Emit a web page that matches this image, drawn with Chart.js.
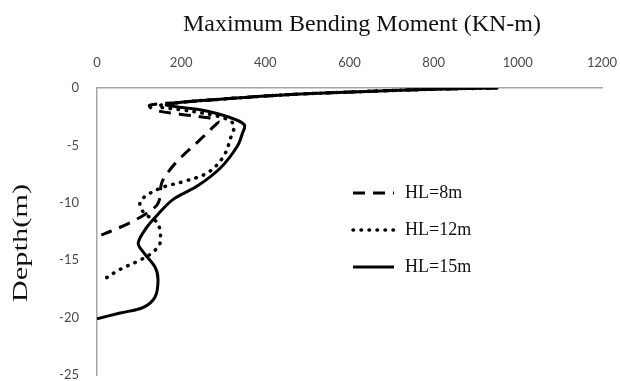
<!DOCTYPE html>
<html>
<head>
<meta charset="utf-8">
<script src="https://cdn.jsdelivr.net/npm/chart.js@4.4.1/dist/chart.umd.min.js"></script>
<style>
  html, body { margin: 0; padding: 0; background: #fff; }
  #wrap { width: 620px; height: 381px; }
</style>
</head>
<body>
<div id="wrap"><canvas id="moment-chart" width="620" height="381"></canvas></div>
<script>
var xTicks = [0, 200, 400, 600, 800, 1000, 1200];
var yTicks = [0, -5, -10, -15, -20, -25];

var labels = ['HL=8m', 'HL=12m', 'HL=15m'];

var depth8 = [0, -0.1, -0.3, -0.55, -0.8, -1.0, -1.25, -1.5, -1.9, -2.3, -2.6, -2.9, -3.4, -4.5, -6.4, -7.8, -8.5, -9.5, -10.3, -11.6, -12.5, -12.8];
var moment8 = [950, 800, 640, 470, 360, 285, 200, 125, 135, 200, 265, 288, 276, 245, 190, 160, 152, 150, 140, 86, 31, 10];

var depth12 = [0, -0.1, -0.3, -0.55, -0.8, -1.0, -1.25, -1.6, -2.0, -2.6, -3.2, -4.3, -6.0, -7.4, -8.2, -8.6, -9.3, -10.0, -10.9, -11.7, -12.6, -13.5, -14.3, -15.0, -15.8, -16.7];
var moment12 = [950, 800, 640, 470, 360, 285, 200, 145, 220, 300, 325, 318, 300, 262, 200, 160, 120, 102, 112, 143, 150, 150, 133, 102, 55, 15];

var depth15 = [0, -0.1, -0.3, -0.55, -0.8, -1.0, -1.25, -1.5, -1.9, -2.5, -3.2, -4.0, -5.1, -6.9, -8.5, -9.7, -11.0, -12.1, -13.5, -14.3, -15.6, -16.7, -18.2, -19.1, -19.6, -20.1];
var moment15 = [950, 800, 640, 470, 360, 285, 200, 165, 245, 310, 350, 345, 333, 295, 240, 181, 145, 119, 98, 110, 138, 145, 138, 110, 55, 0];

function pairs(depth, moment) {
    return depth.map(function (d, i) { return { x: moment[i], y: d }; });
}

var tickColor = '#4a4a4a';
var axisColor = '#a6a6a6';

const overlay = {
    id: 'overlay',
    afterDraw: function (chart) {
        var c = chart.ctx;
        c.save();
        c.fillStyle = '#111';
        c.textAlign = 'center';
        c.textBaseline = 'alphabetic';
        c.font = '24px "Liberation Serif", "Times New Roman", serif';
        c.fillText('Maximum Bending Moment (KN-m)', 362, 31);

        // rotated axis label, stretched like the original
        c.save();
        c.translate(27, 243);
        c.rotate(-Math.PI / 2);
        c.scale(1.45, 1);
        c.font = '21px "Liberation Serif", "Times New Roman", serif';
        c.fillText('Depth(m)', 0, 0);
        c.restore();

        // legend
        var rows = [193, 230, 267];
        chart.data.datasets.forEach(function (ds, i) {
            var y = rows[i];
            c.beginPath();
            c.setLineDash(ds.borderDash || []);
            c.lineCap = ds.borderCapStyle || 'butt';
            c.lineWidth = ds.borderWidth;
            c.strokeStyle = ds.borderColor;
            c.moveTo(353, y);
            c.lineTo(394, y);
            c.stroke();
            c.setLineDash([]);
            c.textAlign = 'left';
            c.textBaseline = 'middle';
            c.font = '18px "Liberation Serif", "Times New Roman", serif';
            c.fillText(ds.label, 405, y);
        });
        c.restore();
    }
};

const ctx = document.getElementById('moment-chart');

var momentChart = new Chart(ctx, {
    type: 'scatter',
    data: {
        datasets: [{
            label: labels[0],
            data: pairs(depth8, moment8),
            borderColor: '#000',
            borderWidth: 3,
            borderDash: [12, 8]
        }, {
            label: labels[1],
            data: pairs(depth12, moment12),
            borderColor: '#000',
            borderWidth: 3.5,
            borderDash: [0.5, 7.5],
            borderCapStyle: 'round'
        }, {
            label: labels[2],
            data: pairs(depth15, moment15),
            borderColor: '#000',
            borderWidth: 3
        }]
    },
    options: {
        responsive: false,
        animation: false,
        showLine: true,
        layout: {
            padding: { left: 0, top: 0, right: 18, bottom: 6 }
        },
        elements: {
            point: { radius: 0, hoverRadius: 0 },
            line: { tension: 0.35, fill: false }
        },
        plugins: {
            legend: { display: false },
            tooltip: { enabled: false }
        },
        scales: {
            x: {
                type: 'linear',
                position: 'top',
                min: 0,
                max: 1200,
                afterFit: function (scale) {
                    scale.height = 88;
                    scale.paddingLeft = 0;
                    scale.paddingRight = 0;
                },
                afterBuildTicks: function (scale) {
                    scale.ticks = xTicks.map(function (v) { return { value: v }; });
                },
                grid: { display: false, tickLength: 0 },
                border: { display: true, color: axisColor, width: 1.5 },
                ticks: {
                    color: tickColor,
                    padding: 17,
                    maxRotation: 0,
                    callback: function (v) { return String(v); },
                    font: { family: 'Lato, "Open Sans", sans-serif', size: 13 }
                }
            },
            y: {
                type: 'linear',
                min: -25,
                max: 0,
                afterFit: function (scale) {
                    scale.width = 97;
                    scale.paddingTop = 0;
                    scale.paddingBottom = 0;
                },
                afterBuildTicks: function (scale) {
                    scale.ticks = yTicks.map(function (v) { return { value: v }; });
                },
                grid: { display: false, tickLength: 0 },
                border: { display: true, color: axisColor, width: 1.5 },
                ticks: {
                    color: tickColor,
                    padding: 18,
                    callback: function (v) { return String(v); },
                    font: { family: 'Lato, "Open Sans", sans-serif', size: 13 }
                }
            }
        }
    },
    plugins: [overlay]
});
</script>
</body>
</html>
